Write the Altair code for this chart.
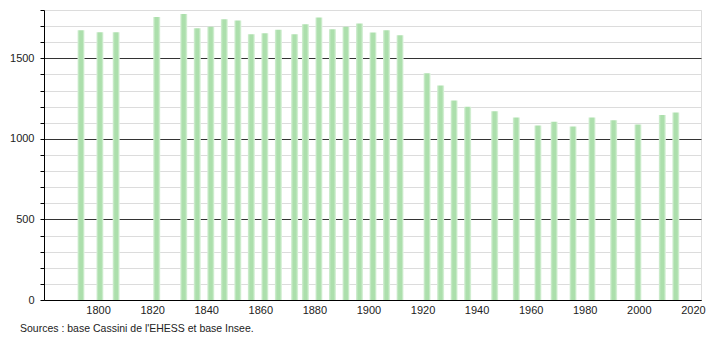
import altair as alt
import pandas as pd

years = [1793, 1800, 1806, 1821, 1831, 1836, 1841, 1846, 1851, 1856, 1861, 1866,
         1872, 1876, 1881, 1886, 1891, 1896, 1901, 1906, 1911, 1921, 1926, 1931,
         1936, 1946, 1954, 1962, 1968, 1975, 1982, 1990, 1999, 2008, 2013]
population = [1675, 1662, 1662, 1756, 1775, 1687, 1696, 1743, 1735, 1650, 1656, 1677,
              1650, 1712, 1754, 1681, 1696, 1716, 1660, 1675, 1644, 1407, 1332, 1239,
              1200, 1172, 1133, 1083, 1106, 1077, 1133, 1115, 1090, 1148, 1164]
x_labels = [1800, 1820, 1840, 1860, 1880, 1900, 1920, 1940, 1960, 1980, 2000, 2020]
source_text = "Sources : base Cassini de l'EHESS et base Insee."

df = pd.DataFrame({"year": years, "pop": population})

FONT = "Liberation Sans"

grad = {
    "gradient": "linear", "x1": 0, "x2": 1, "y1": 0, "y2": 0,
    "stops": [
        {"offset": 0, "color": "#d6f0d6"},
        {"offset": 0.3, "color": "#acdfac"},
        {"offset": 0.7, "color": "#acdfac"},
        {"offset": 1, "color": "#e2f5e2"},
    ],
}

xscale = alt.Scale(domain=[1780, 2023], nice=False, zero=False)
yscale = alt.Scale(domain=[0, 1800], nice=False, padding=0)

base = alt.Chart(df)

bars = base.transform_calculate(
    x0="datum.year - 0.6", x1="datum.year + 2.0"
).mark_bar(fill=grad, strokeWidth=0).encode(
    x=alt.X("x0:Q", scale=xscale, axis=alt.Axis(
        values=x_labels, title=None, ticks=False, grid=False, domainColor="black",
        labelFont=FONT, labelFontSize=11, labelColor="#222", labelPadding=4,
        labelFlush=False, labelOverlap=False, format="d")),
    x2="x1:Q",
    y=alt.Y("pop:Q", scale=yscale, axis=alt.Axis(
        values=list(range(0, 1801, 100)), title=None,
        labelExpr="datum.value % 500 === 0 ? datum.label : ''",
        gridColor={"condition": {"test": "datum.value % 500 === 0", "value": "#333"}, "value": "#dcdcdc"},
        gridWidth=1, tickColor="black", tickSize=4, domainColor="black",
        labelFont=FONT, labelFontSize=11, labelColor="#222", labelPadding=6, format="d")),
    y2=alt.Y2(datum=0),
)

src = alt.Chart(pd.DataFrame({"t": [source_text]})).mark_text(
    align="left", baseline="middle", font=FONT, fontSize=10.5, color="#222"
).encode(text="t:N", x=alt.value(-24), y=alt.value(319))

chart = alt.layer(bars, src).properties(
    width=657, height=290,
    autosize=alt.AutoSizeParams(type="none"),
    padding={"left": 44, "top": 10, "right": 9, "bottom": 40},
).configure_view(stroke=None).configure(background="white")

chart.save("out.html", embed_options={"renderer": "svg", "actions": False})
